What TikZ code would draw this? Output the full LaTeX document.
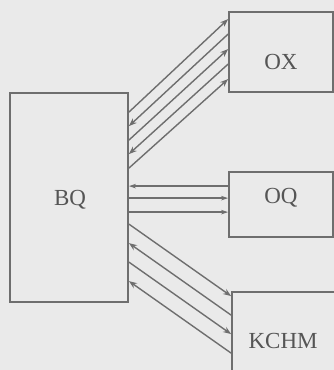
\documentclass[tikz,border=0pt]{standalone}
\usepackage{fontspec}
\setmainfont{Liberation Serif}
\usetikzlibrary{calc,arrows.meta}
\definecolor{bgc}{RGB}{234,234,234}
\definecolor{lnc}{RGB}{110,110,110}
\definecolor{txc}{RGB}{85,85,85}
\begin{document}
\begin{tikzpicture}[x=1pt,y=-1pt,
  blk/.style 2 args={draw=lnc, line width=1.8pt, inner sep=0pt, minimum width=#1, minimum height=#2},
  lbl/.style={text=txc, font=\fontsize{23}{26}\selectfont, inner sep=0pt},
  wire/.style={draw=lnc, line width=1.4pt},
  tip/.style={-{Stealth[length=8pt,width=6pt]}},
  pit/.style={{Stealth[length=8pt,width=6pt]}-},
  stip/.style={-{Stealth[length=7pt,width=4.5pt]}},
  spit/.style={{Stealth[length=7pt,width=4.5pt]}-}
]
\fill[bgc] (0,0) rectangle (334,370);
\useasboundingbox (0,0) rectangle (334,370);
\clip (0,0) rectangle (334,370);

% boxes
\node[blk={118pt}{209pt}] (bq) at (69,197.5) {};
\node[blk={104pt}{80pt}] (ox) at (281,52) {};
\node[blk={104pt}{65pt}] (oq) at (281,204.5) {};
\node[blk={110pt}{88pt}] (kc) at (287,336) {};

% labels
\node[lbl] (bqt) at ($(bq.center)+(1,2.5)$) {BQ};
\node[lbl] (oxt) at ($(ox.center)+(0,10)$) {OX};
\node[lbl] (oqt) at ($(oq.center)+(0,-7)$) {OQ};
\node[lbl] (kct) at ($(kc.north west)+(52,50)$) {KCHM};

% BQ <-> OX
\draw[wire,tip] ($(bq.north east)+(0,20)$) -- ($(ox.north west)+(0,8)$);
\draw[wire,pit] ($(bq.north east)+(0,34)$) -- ($(ox.north west)+(0,23)$);
\draw[wire,tip] ($(bq.north east)+(0,48)$) -- ($(ox.north west)+(0,38)$);
\draw[wire,pit] ($(bq.north east)+(0,62)$) -- ($(ox.north west)+(0,53)$);
\draw[wire,tip] ($(bq.north east)+(0,76)$) -- ($(ox.north west)+(0,68)$);

% BQ <-> OQ
\draw[wire,spit] ($(bq.north east)+(0,94)$) -- ($(oq.north west)+(0,15)$);
\draw[wire,stip] ($(bq.north east)+(0,106)$) -- ($(oq.north west)+(0,27)$);
\draw[wire,stip] ($(bq.north east)+(0,120)$) -- ($(oq.north west)+(0,41)$);

% BQ <-> KCHM
\draw[wire,tip] ($(bq.north east)+(0,132)$) -- ($(kc.north west)+(0,5)$);
\draw[wire,pit] ($(bq.north east)+(0,151)$) -- ($(kc.north west)+(0,24)$);
\draw[wire,tip] ($(bq.north east)+(0,170)$) -- ($(kc.north west)+(0,43)$);
\draw[wire,pit] ($(bq.north east)+(0,189)$) -- ($(kc.north west)+(0,62)$);
\end{tikzpicture}
\end{document}
